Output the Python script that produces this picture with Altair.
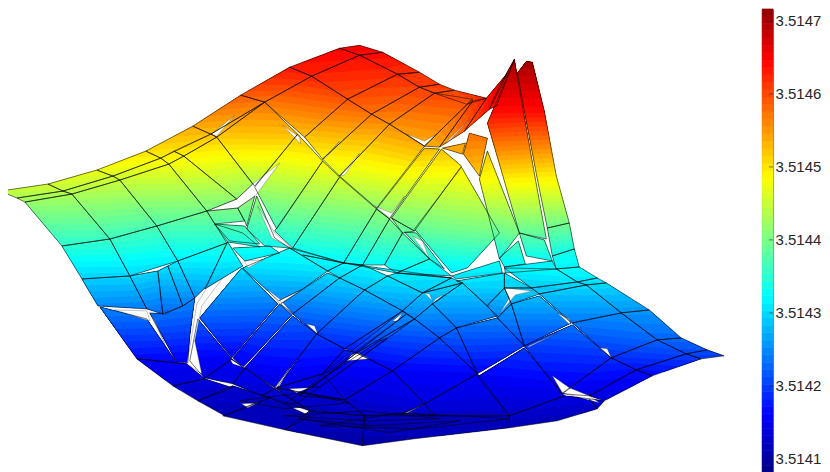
import altair as alt

# Surface height readings, micro-units above 3.514; each patch is x, y, height repeated per corner.
BASE = 3.514
Z_LOW, Z_HIGH = 81, 727
TICK_VALUES = [3.5141, 3.5142, 3.5143, 3.5144, 3.5145, 3.5146, 3.5147]
JET_STOPS = [0, 0.125, 0.375, 0.625, 0.875, 1]
JET_COLORS = ["#000084", "#0000ff", "#00ffff", "#ffff00", "#ff0000", "#800000"]
N_BANDS = 64

bottom_patches = [
    [137,358,165, 187,363,155, 205,378,145, 173,385,135],
    [173,385,135, 205,378,145, 233,387,130, 198,400,122],
    [198,400,122, 233,385,135, 270,397,125, 225,415,114],
    [223,415,114, 270,397,125, 310,415,112, 285,429,112],
    [262,395,130, 275,388,140, 310,410,115, 270,397,125],
    [285,429,112, 310,410,114, 365,415,115, 363,445,108],
    [365,415,118, 510,415,125, 510,427,115, 415,438,110, 363,445,108],
    [510,415,125, 565,395,145, 590,398,140, 598,408,125, 558,420,115, 510,427,115],
    [598,408,125, 605,400,140, 590,398,140],
    [275,387,140, 345,399,130, 365,415,120, 310,410,115],
    [277,387,140, 323,373,150, 345,399,130],
    [232,358,158, 245,368,152, 233,383,140, 205,377,145],
    [245,367,152, 275,388,138, 262,395,130, 233,383,140],
    [403,413,125, 425,403,140, 435,415,125],
    [285,415,112, 365,410,118, 440,418,122, 365,420,112],
    [320,425,105, 400,412,122, 510,418,122, 420,428,112],
    [300,418,108, 370,425,110, 460,420,115, 390,432,105],
    [240,400,120, 300,392,128, 350,402,128, 285,408,115],
]

lower_patches = [
    [100,306,247, 147,318,227, 177,362,157, 137,358,165],
    [150,312,235, 165,313,225, 183,305,240, 195,297,250, 190,335,195, 188,362,155, 177,362,155],
    [198,318,219, 232,358,158, 205,378,145, 190,360,155],
    [242,267,303, 278,303,240, 232,357,158, 200,317,220],
    [280,303,242, 292,314,225, 243,367,154, 233,357,160],
    [293,315,225, 317,333,199, 275,387,140, 245,367,154],
    [317,333,199, 345,348,180, 323,373,150, 277,387,140],
    [323,373,150, 345,349,178, 357,352,176, 300,395,130],
    [300,395,130, 357,352,176, 393,370,160, 345,399,130],
    [345,399,130, 393,370,160, 425,403,140, 403,413,125, 365,415,120],
    [393,370,160, 440,337,212, 478,373,160, 425,403,140],
    [440,337,212, 457,327,229, 478,373,160],
    [425,403,140, 478,373,160, 510,415,125, 435,415,125],
    [478,376,158, 525,347,197, 565,395,146, 510,415,125],
    [357,352,176, 415,318,244, 440,337,212, 393,370,160],
    [345,348,180, 403,310,254, 415,318,244, 357,352,176],
    [323,373,150, 403,310,254, 407,313,250, 330,370,155],
    [312,387,140, 407,313,250, 415,318,244, 322,385,138],
    [285,403,122, 380,340,190, 388,337,195, 298,402,124],
    [415,318,244, 433,303,269, 457,327,229, 440,337,212],
    [403,310,254, 423,292,287, 463,282,303, 433,303,269, 415,318,244],
    [423,292,287, 452,277,305, 463,282,303],
    [433,303,269, 463,282,303, 498,315,249, 457,327,229],
    [457,327,229, 498,317,245, 525,345,199, 478,373,160],
    [498,317,245, 512,303,269, 525,345,199],
    [512,303,269, 540,295,282, 572,322,237, 525,345,199],
    [457,280,310, 505,272,310, 505,287,295, 490,302,265, 488,305,260, 463,282,303],
    [505,272,310, 532,287,290, 505,287,295],
    [488,305,260, 505,287,295, 512,303,269, 498,317,245],
    [505,287,295, 532,287,290, 540,293,285, 512,303,269],
]

right_patches = [
    [525,345,199, 573,324,235, 612,357,190, 562,393,147],
    [563,393,147, 612,357,190, 637,369,170, 590,395,145],
    [590,395,145, 637,369,170, 653,375,165, 605,400,140],
    [573,322,237, 622,312,254, 658,339,225, 612,357,190],
    [622,312,254, 650,309,258, 682,337,228, 658,339,225],
    [612,357,190, 658,339,225, 687,353,205, 637,369,170],
    [658,339,225, 682,337,228, 708,349,212, 687,353,205],
    [687,353,205, 708,349,212, 725,355,200, 702,358,195],
    [637,369,170, 687,353,205, 702,358,195, 653,375,165],
    [532,287,290, 578,281,305, 587,284,298, 540,293,285],
    [540,293,285, 587,284,300, 622,312,254, 573,322,237],
    [587,284,300, 607,282,300, 650,309,258, 622,312,254],
    [578,281,305, 598,277,311, 607,282,300, 587,284,298],
    [505,267,320, 557,268,326, 578,281,305, 532,287,290],
    [557,268,326, 580,266,330, 598,277,311, 578,281,305],
]

middle_patches = [
    [82,278,293, 130,275,298, 147,308,240, 98,305,250],
    [130,275,298, 158,270,298, 163,313,225, 147,308,240],
    [158,270,298, 168,265,305, 183,305,240, 163,313,225],
    [168,265,305, 178,260,315, 195,297,250, 183,305,240],
    [178,260,315, 227,242,345, 207,285,275, 195,297,250],
    [228,241,345, 243,265,305, 205,288,272],
    [233,247,335, 270,245,335, 280,252,320, 245,260,312],
    [215,223,375, 243,232,358, 260,246,335, 228,241,345],
    [243,267,303, 290,247,336, 328,270,305, 303,288,270, 279,300,247],
    [328,272,302, 340,277,297, 293,313,227, 281,303,242],
    [340,277,297, 365,289,282, 317,333,199, 293,313,227],
    [365,289,282, 403,310,254, 345,348,180, 317,333,199],
    [365,289,282, 388,275,310, 423,292,287, 403,310,254],
    [340,277,297, 363,264,320, 388,275,310, 365,289,282],
    [344,262,320, 363,264,323, 340,277,297, 328,270,305],
    [290,247,336, 344,262,320, 328,270,305],
    [397,272,316, 452,277,305, 423,292,287, 388,275,310],
    [303,254,328, 344,262,320, 452,277,305, 397,272,316],
    [430,258,343, 452,275,308, 397,272,316],
    [452,275,310, 500,260,330, 503,272,310, 457,278,305],
    [505,266,320, 553,260,325, 557,268,318, 506,272,310],
    [257,195,420, 275,237,345, 290,247,336, 265,245,335, 247,228,365],
    [323,160,486, 340,176,462, 293,247,336, 275,230,362],
    [340,176,462, 377,208,415, 344,262,320, 293,247,336],
    [377,208,415, 390,218,404, 363,264,323, 344,262,320],
    [390,218,404, 403,232,382, 385,264,326, 363,264,323],
    [403,232,382, 430,258,343, 397,272,316, 385,264,326],
    [392,217,404, 415,230,388, 403,232,382],
    [405,231,380, 417,232,385, 445,268,320, 430,258,343],
    [462,166,495, 500,232,398, 468,267,320, 452,272,312, 415,228,388],
]

upper_patches = [
    [25,201,420, 72,193,432, 110,238,360, 62,245,350],
    [72,193,432, 120,179,452, 157,225,372, 110,238,360],
    [120,179,452, 169,163,478, 207,210,397, 157,225,372],
    [169,163,478, 184,155,490, 237,198,415, 207,210,397],
    [184,155,490, 217,136,518, 253,183,432, 237,198,415],
    [217,136,518, 265,101,572, 298,133,525, 255,185,430],
    [265,101,572, 312,75,624, 348,98,595, 305,136,522],
    [312,75,624, 360,54,640, 398,73,620, 348,98,595],
    [360,54,640, 383,51,645, 420,71,615, 398,73,620],
    [398,73,620, 420,71,615, 440,83,610, 420,86,605],
    [420,86,605, 440,83,612, 455,89,605, 435,92,605],
    [435,92,605, 455,89,605, 487,97,625, 467,103,595],
    [62,245,350, 110,238,360, 130,275,298, 82,278,293],
    [110,238,360, 157,225,372, 178,260,315, 130,275,298],
    [157,225,372, 207,210,397, 227,242,345, 178,260,315],
    [207,210,397, 238,207,402, 245,220,380, 215,223,375],
    [215,223,375, 245,225,372, 260,243,342, 230,240,340],
    [238,207,402, 255,195,420, 247,225,372, 245,220,380],
    [255,186,428, 298,133,525, 323,160,486, 277,228,362],
    [305,136,522, 348,98,595, 372,113,573, 323,158,487],
    [348,98,595, 398,73,620, 420,86,605, 372,113,573],
    [372,113,573, 420,86,605, 435,92,605, 390,123,555],
    [390,123,555, 435,92,605, 473,98,600, 425,145,535],
    [425,145,535, 473,98,600, 473,100,612, 440,146,540],
    [323,158,487, 372,113,573, 390,123,555, 340,175,462],
    [340,175,462, 390,123,555, 425,145,535, 377,207,415],
    [377,208,415, 425,147,530, 440,148,525, 390,218,404],
    [392,217,404, 442,148,525, 462,165,495, 415,230,388],
]

ridge_patches = [
    [0,190,450, 48,183,458, 63,190,442, 17,197,430],
    [48,183,458, 97,169,473, 113,175,460, 63,190,442],
    [97,169,473, 146,150,505, 161,157,490, 113,175,460],
    [146,150,505, 193,125,540, 211,133,525, 161,157,490],
    [193,125,540, 241,94,590, 265,101,572, 211,133,525],
    [241,94,590, 290,66,632, 312,75,624, 265,101,572],
    [290,66,632, 340,47,650, 360,54,640, 312,75,624],
    [340,47,650, 360,44,652, 383,51,645, 360,54,640],
    [17,197,430, 63,190,442, 72,193,432, 25,201,420],
    [63,190,442, 113,175,460, 120,179,452, 72,193,432],
    [113,175,460, 161,157,490, 169,163,478, 120,179,452],
    [161,157,490, 174,150,500, 184,155,490, 169,163,478],
    [174,150,500, 211,133,525, 217,136,518, 184,155,490],
    [211,133,525, 265,101,572, 217,136,518],
]

spike_patches = [
    [443,147,545, 466,142,545, 463,153,535],
    [464,153,550, 470,132,575, 488,137,570, 480,175,515],
    [440,146,540, 473,100,612, 487,97,630, 465,130,585],
    [465,130,585, 487,97,630, 508,72,680, 490,108,640],
    [490,108,640, 500,85,665, 515,58,705, 497,105,645],
    [488,150,520, 520,232,400, 500,258,330, 480,178,490],
    [548,227,390, 570,222,400, 575,248,340, 553,255,335],
    [553,255,335, 575,248,340, 580,266,318, 557,268,318],
    [520,232,385, 545,239,370, 553,260,325, 527,255,335],
    [500,257,335, 519,240,375, 526,263,325, 505,266,320],
    [515,58,705, 524,110,640, 536,178,490, 547,238,375, 520,232,385, 505,180,490, 488,122,618, 493,110,640],
    [518,72,690, 527,60,705, 533,61,705, 545,110,640, 557,175,495, 570,222,400, 548,227,390, 538,178,490, 525,110,640],
]

# Tears in the surface, where the white page shows through.
tear_outlines = [
    [553,375, 563,392, 600,402, 590,395, 570,387],
    [115,309, 147,310, 150,320],
    [150,312, 165,343, 155,320],
    [207,287, 223,277, 202,305, 195,340, 202,373, 187,363, 192,335, 197,303],
    [245,260, 263,259, 248,267],
    [267,288, 280,303, 293,313, 280,298],
    [282,302, 302,289, 280,299],
    [307,323, 318,333, 315,325],
    [275,387, 290,367, 280,385],
    [242,403, 258,402, 248,407],
    [290,388, 310,387, 297,392],
    [230,358, 245,367, 233,363],
    [283,124, 300,136, 301,143],
    [340,175, 360,152, 345,174],
    [323,158, 340,140, 326,157],
    [375,205, 390,217, 405,195, 392,212],
    [407,133, 425,145, 437,133, 425,140],
    [505,287, 533,290, 516,294, 500,313, 510,297],
    [393,320, 403,312, 398,320],
    [433,303, 445,293, 436,298],
    [425,292, 433,300, 430,293],
    [558,312, 572,325, 570,318],
    [600,347, 612,357, 608,348],
    [528,347, 558,332, 530,345],
    [352,354, 358,352, 370,358, 347,360],
    [403,413, 425,403, 408,412],
    [258,205, 275,232, 293,248, 272,237],
    [207,210, 237,198, 253,183, 280,162, 255,196, 238,207],
    [212,133, 235,114, 217,135],
    [445,143, 470,118, 450,140],
    [413,235, 430,258, 423,240],
]

all_patches = (bottom_patches + lower_patches + right_patches + middle_patches
               + upper_patches + ridge_patches + spike_patches)


def corners(flat):
    return [tuple(flat[i:i + 3]) for i in range(0, len(flat), 3)]


def clip_above(points, level):
    out = []
    for k, a in enumerate(points):
        b = points[(k + 1) % len(points)]
        if a[2] >= level:
            out.append(a)
        if (a[2] >= level) != (b[2] >= level):
            t = (level - a[2]) / (b[2] - a[2])
            out.append((a[0] + t * (b[0] - a[0]), a[1] + t * (b[1] - a[1]), level))
    return out


def feature(points, **props):
    ring = [[p[0], p[1]] for p in points]
    ring.append(ring[0])
    return {"type": "Feature", "geometry": {"type": "Polygon", "coordinates": [ring]}, "properties": props}


step = (Z_HIGH - Z_LOW) / N_BANDS
band_edges = [Z_LOW + i * step for i in range(N_BANDS + 1)]
band_rows = [
    {"low": BASE + band_edges[i] * 1e-6, "high": BASE + band_edges[i + 1] * 1e-6,
     "level": BASE + (band_edges[i] + band_edges[i + 1]) / 2 * 1e-6}
    for i in range(N_BANDS)
]

fills, outlines = [], []
for flat in all_patches:
    pts = corners(flat)
    zs = [p[2] for p in pts]
    for i in range(N_BANDS):
        if band_edges[i + 1] <= min(zs) or band_edges[i] >= max(zs):
            continue
        shape = pts if band_edges[i] <= min(zs) else clip_above(pts, band_edges[i])
        if len(shape) >= 3:
            fills.append(feature(shape, level=band_rows[i]["level"]))
    outlines.append(feature(pts))

tears = [feature([(t[i], t[i + 1]) for i in range(0, len(t), 2)]) for t in tear_outlines]

domain_stops = [BASE + (Z_LOW + f * (Z_HIGH - Z_LOW)) * 1e-6 for f in JET_STOPS]
jet = alt.Scale(domain=domain_stops, range=JET_COLORS, interpolate="rgb")
flat_map = dict(type="identity", scale=1, translate=[-8, -8])

surface = alt.layer(
    alt.Chart(alt.Data(values=fills)).mark_geoshape(strokeWidth=0).encode(
        color=alt.Color("properties.level:Q", scale=jet, legend=None)
    ).project(**flat_map),
    alt.Chart(alt.Data(values=tears)).mark_geoshape(fill="white", stroke="#333333", strokeWidth=0.3).project(**flat_map),
    alt.Chart(alt.Data(values=outlines)).mark_geoshape(
        filled=False, stroke="#000000", strokeWidth=0.6, strokeOpacity=0.9
    ).project(**flat_map),
).properties(width=754, height=464)

bar_scale = alt.Scale(domain=[BASE + Z_LOW * 1e-6, BASE + 716 * 1e-6], nice=False, zero=False, clamp=True)
bar_axis = alt.Axis(
    orient="right", values=TICK_VALUES, format=".4f", ticks=False, tickSize=0, domain=False, grid=False,
    labelFont="Liberation Sans", labelFontSize=15, labelColor="#262626", labelPadding=2,
)
bar = alt.Chart(alt.Data(values=band_rows)).mark_rect(strokeWidth=0.6).encode(
    x=alt.value(0),
    x2=alt.value(11),
    y=alt.Y("low:Q", scale=bar_scale, title=None, axis=bar_axis),
    y2="high:Q",
    color=alt.Color("level:Q", scale=jet, legend=None),
    stroke=alt.Stroke("level:Q", scale=jet, legend=None),
)
bar_ticks = alt.Chart(alt.Data(values=[{"tick": t} for t in TICK_VALUES])).mark_rule(
    stroke="#262626", strokeWidth=0.6
).encode(x=alt.value(7), x2=alt.value(11), y=alt.Y("tick:Q", scale=bar_scale, title=None, axis=bar_axis))
colorbar = alt.layer(bar, bar_ticks).properties(
    width=11, height=464, view=alt.ViewConfig(stroke="#808080", strokeWidth=1)
)

chart = alt.hconcat(surface, colorbar, spacing=0).properties(padding=0).configure_view(stroke=None)
chart.save("out.html", embed_options={"renderer": "svg", "actions": False})
